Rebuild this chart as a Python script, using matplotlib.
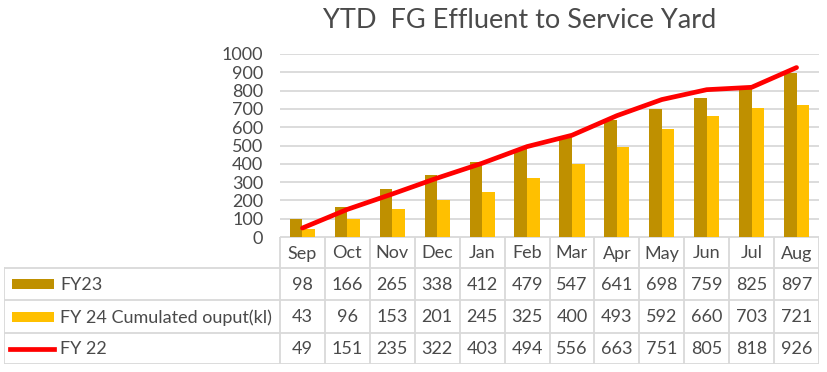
import matplotlib
matplotlib.use("Agg")
import matplotlib.pyplot as plt
from matplotlib.patches import Rectangle
from matplotlib.lines import Line2D

plt.rcParams['font.family'] = ['Lato', 'DejaVu Sans']

months = ["Sep", "Oct", "Nov", "Dec", "Jan", "Feb", "Mar", "Apr", "May", "Jun", "Jul", "Aug"]
fy23 = [98, 166, 265, 338, 412, 479, 547, 641, 698, 759, 825, 897]
fy24 = [43, 96, 153, 201, 245, 325, 400, 493, 592, 660, 703, 721]
fy22 = [49, 151, 235, 322, 403, 494, 556, 663, 751, 805, 818, 926]
series_names = ["FY23", "FY 24 Cumulated ouput(kl)", "FY 22"]
yticks = [0, 100, 200, 300, 400, 500, 600, 700, 800, 900, 1000]
title = "YTD  FG Effluent to Service Yard"

C23 = "#BF9000"
C24 = "#FFC000"
C22 = "#FF0000"
TXT = "#4A4A4A"
GRID = "#D9D9D9"
BORDER = "#D9D9D9"

W, H = 827, 372
fig = plt.figure(figsize=(W / 100, H / 100), dpi=100)

def fx(px):
    return px / W

def fy(py):
    return 1 - py / H

# main axes: x 280..819, y 54..237
ax_l, ax_r, ax_t, ax_b = 280, 819, 54, 237
ax = fig.add_axes([fx(ax_l), fy(ax_b), fx(ax_r - ax_l), (ax_b - ax_t) / H])
x = list(range(len(months)))
bw = 0.28
ax.bar([i - bw / 2 for i in x], fy23, width=bw, color=C23, zorder=2)
ax.bar([i + bw / 2 for i in x], fy24, width=bw, color=C24, zorder=2)
ax.plot(x, fy22, color=C22, lw=3.4, zorder=3, solid_capstyle='round')
ax.set_xlim(-0.5, len(months) - 0.5)
ax.set_ylim(0, 1000)
ax.set_yticks(yticks)
ax.set_yticklabels([str(v) for v in yticks], fontsize=13, color=TXT)
ax.set_xticks([])
ax.tick_params(axis='y', length=0, pad=12)
ax.yaxis.grid(True, color=GRID, lw=1.3, zorder=0)
for s in ax.spines.values():
    s.set_visible(False)

fig.text(fx(520), fy(21), title, ha='center', va='center', fontsize=19.5, color=TXT)

# data table axes
tb_l, tb_r, tb_t, tb_b = 4, 819, 237, 364
tax = fig.add_axes([fx(tb_l), fy(tb_b), fx(tb_r - tb_l), (tb_b - tb_t) / H])
colw = (ax_r - ax_l) / len(months)
x0 = -0.5 - (ax_l - tb_l) / colw
tax.set_xlim(x0, len(months) - 0.5)
tax.set_ylim(tb_b - tb_t, 0)
tax.axis('off')

rows_y = [0, 31, 63, 96, 127]
lw = 1.3
# header row borders (only over month columns)
for i in range(len(months) + 1):
    tax.add_line(Line2D([i - 0.5, i - 0.5], [rows_y[0], rows_y[-1]], color=BORDER, lw=lw))
tax.add_line(Line2D([-0.5, len(months) - 0.5], [rows_y[0], rows_y[0]], color=BORDER, lw=lw))
for ry in rows_y[1:]:
    tax.add_line(Line2D([x0, len(months) - 0.5], [ry, ry], color=BORDER, lw=lw))
tax.add_line(Line2D([x0, x0], [rows_y[1], rows_y[-1]], color=BORDER, lw=lw))

for i, m in enumerate(months):
    tax.text(i, (rows_y[0] + rows_y[1]) / 2 + 1, m, ha='center', va='center', fontsize=13, color=TXT)

data_rows = [fy23, fy24, fy22]
for r, vals in enumerate(data_rows):
    yc = (rows_y[r + 1] + rows_y[r + 2]) / 2 + 1
    for i, v in enumerate(vals):
        tax.text(i, yc, str(v), ha='center', va='center', fontsize=13, color=TXT)

# legend keys + labels
key_x0 = x0 + 8 / colw
key_x1 = x0 + 50 / colw
for r, name in enumerate(series_names):
    yc = (rows_y[r + 1] + rows_y[r + 2]) / 2
    if r < 2:
        tax.add_patch(Rectangle((key_x0, yc - 5), key_x1 - key_x0, 10, color=[C23, C24][r], lw=0))
    else:
        tax.add_line(Line2D([x0 + 6 / colw, key_x1], [yc, yc], color=C22, lw=3.4))
    tax.text(x0 + 56 / colw, yc + 1, name, ha='left', va='center', fontsize=13, color=TXT)

fig.savefig("out.png", dpi=100)
